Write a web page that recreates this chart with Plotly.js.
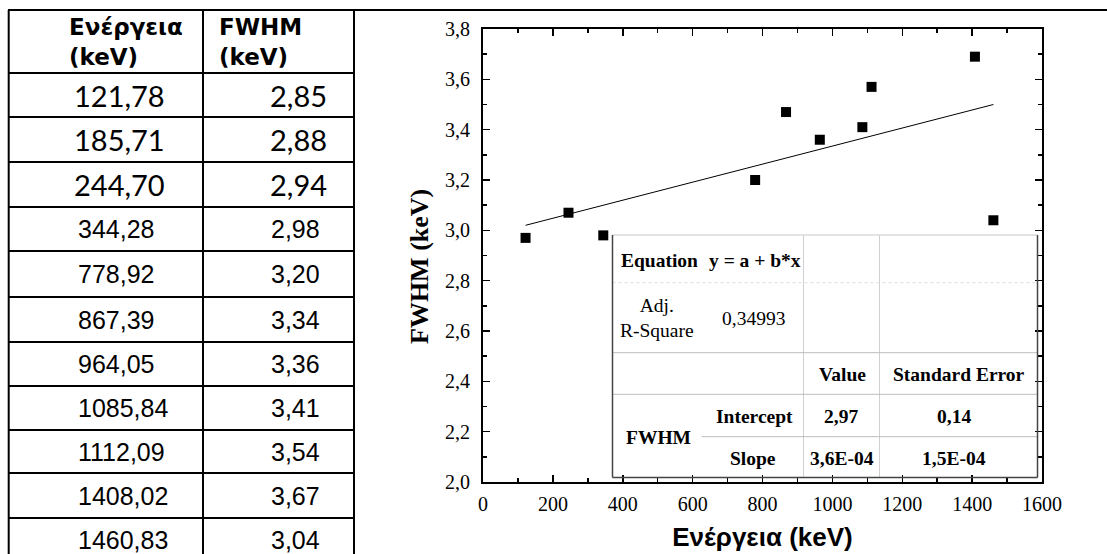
<!DOCTYPE html>
<html><head><meta charset="utf-8">
<script src="https://cdn.plot.ly/plotly-3.0.1.min.js"></script>
<style>html,body{margin:0;padding:0;background:#fff}</style>
</head><body><div id="chart" style="width:1107px;height:554px"></div>
<script>
// ---- data: left table ----
const tableHeaders = ['Ενέργεια<br>(keV)', 'FWHM<br>(keV)'];
const tableEnergy = ['121,78','185,71','244,70','344,28','778,92','867,39','964,05','1085,84','1112,09','1408,02','1460,83'];
const tableFwhm   = ['2,85','2,88','2,94','2,98','3,20','3,34','3,36','3,41','3,54','3,67','3,04'];

// ---- data: plotted points and fit ----
const plotEnergy = [121.78, 244.70, 344.28, 778.92, 867.39, 964.05, 1085.84, 1112.09, 1408.02, 1460.83];
const plotFwhm   = [2.97, 3.07, 2.98, 3.20, 3.47, 3.36, 3.41, 3.57, 3.69, 3.04];
const fitEnergy  = [121.78, 1460.83];
const fitFwhm    = [3.02, 3.50];

// ---- tick labels and titles ----
const xTickVals = [0,200,400,600,800,1000,1200,1400,1600];
const xTickText = ['0','200','400','600','800','1000','1200','1400','1600'];
const yTickVals = [2.0,2.2,2.4,2.6,2.8,3.0,3.2,3.4,3.6,3.8];
const yTickText = ['2,0','2,2','2,4','2,6','2,8','3,0','3,2','3,4','3,6','3,8'];
const xTitle = 'Ενέργεια (keV)';
const yTitle = 'FWHM (keV)';

// ---- inset fit table text ----
const insetText = ['Equation','y = a + b*x','Adj.<br>R-Square','0,34993','Value','Standard Error',
                   'Intercept','2,97','0,14','FWHM','Slope','3,6E-04','1,5E-04'];

// ---- layout helpers (pixel -> paper, margins are zero) ----
const W = 1107, H = 554;
const X = p => p / W;
const Y = p => 1 - p / H;

// left table geometry
const rowLines = [73,117,162,207,251,297,342,386,430,473,518,562];
const colEdges = [8.7, 203, 354];
const calibriRows = 3;

const shapes = [];
const annotations = [];
const line = (x0,y0,x1,y1,color,width,dash) => shapes.push({type:'line',xref:'paper',yref:'paper',
  x0:X(x0),y0:Y(y0),x1:X(x1),y1:Y(y1),line:{color:color,width:width,dash:dash||'solid'}});

// outer top line and table borders
line(8, 10, W, 10, '#000', 2);
colEdges.forEach(cx => line(cx, 10, cx, H, '#000', 2));
rowLines.slice(0,-1).forEach(ry => line(8, ry, 354, ry, '#000', 2));

// header text
const headerX = [67, 217];
tableHeaders.forEach((t,i) => annotations.push({xref:'paper',yref:'paper',x:X(headerX[i]),y:Y(42),
  xanchor:'left',yanchor:'middle',align:'left',showarrow:false,text:'<b>'+t+'</b>',
  font:{family:'DejaVu Sans',size:23,color:'#000'}}));

// body text
tableEnergy.forEach((t,i) => {
  const cy = (rowLines[i] + rowLines[i+1]) / 2;
  const cal = i < calibriRows;
  const f = cal ? {family:'Lato',size:29,color:'#000'} : {family:'Liberation Sans, Arial',size:25,color:'#000'};
  annotations.push({xref:'paper',yref:'paper',x:X(cal?72:76),y:Y(cy),xanchor:'left',yanchor:'middle',
    showarrow:false,text:t,font:f});
  annotations.push({xref:'paper',yref:'paper',x:X(cal?268:269),y:Y(cy),xanchor:'left',yanchor:'middle',
    showarrow:false,text:tableFwhm[i],font:f});
});

// inset table box + lines
const bx0 = 612.5, bx1 = 1037.5, by0 = 235, by1 = 477.5;
line(bx0, by0, bx1, by0, '#c8c8c8', 1);
line(803.5, by0, 803.5, by1, '#d0d0d0', 1);
line(879.5, by0, 879.5, by1, '#d0d0d0', 1);
line(bx0, 282.7, bx1, 282.7, '#dddddd', 1, 'dot');
line(bx0, 352.7, bx1, 352.7, '#bdbdbd', 1);
line(bx0, 394.3, bx1, 394.3, '#bdbdbd', 1);
line(701.7, 436.7, bx1, 436.7, '#bdbdbd', 1);
line(bx0, by0, bx0, by1, '#444', 1.5);
line(bx1, by0, bx1, by1, '#444', 1.5);
line(bx0, by1, bx1, by1, '#444', 1.5);

const insetPos = [
  [619,260.7,'left',true],[707,260.7,'left',true],[657,318,'center',false],[753,318,'center',false],
  [842,374,'center',true],[959,374,'center',true],
  [754,416,'center',true],[841,416,'center',true],[954,416,'center',true],
  [658,437,'center',true],[753,458,'center',true],[842,458,'center',true],[954,458,'center',true]
];
insetText.forEach((t,i) => {
  const p = insetPos[i];
  annotations.push({xref:'paper',yref:'paper',x:X(p[0]),y:Y(p[1]),xanchor:p[2],yanchor:'middle',
    showarrow:false,text:p[3]?'<b>'+t+'</b>':t,
    font:{family:'Liberation Serif, Times New Roman',size:19.5,color:'#000'}});
});

// y axis title (placed as rotated annotation to match offset position)
annotations.push({xref:'paper',yref:'paper',x:X(419),y:Y(267),xanchor:'center',yanchor:'middle',
  textangle:-90,showarrow:false,text:'<b>'+yTitle+'</b>',
  font:{family:'Liberation Serif, Times New Roman',size:26,color:'#000'}});

const axisCommon = {
  showline:true, linecolor:'#000', linewidth:2, mirror:'ticks',
  ticks:'inside', ticklen:7, tickwidth:1.5, tickcolor:'#000',
  showgrid:false, zeroline:false, fixedrange:true,
  tickfont:{family:'Liberation Serif, Times New Roman', size:20, color:'#000'}
};

const traces = [
  {x:fitEnergy, y:fitFwhm, type:'scatter', mode:'lines', line:{color:'#000', width:1}, hoverinfo:'skip'},
  {x:plotEnergy, y:plotFwhm, type:'scatter', mode:'markers',
   marker:{symbol:'square', size:10, color:'#000'}}
];

const layout = {
  width:W, height:H, margin:{l:0,r:0,t:0,b:0},
  paper_bgcolor:'#fff', plot_bgcolor:'rgba(0,0,0,0)', showlegend:false,
  xaxis: Object.assign({}, axisCommon, {
    domain:[X(483), X(1042)], range:[0,1600], tickmode:'array', tickvals:xTickVals, ticktext:xTickText,
    ticklabelstandoff:3,
    minor:{ticks:'inside', ticklen:4, tickwidth:1.5, tickcolor:'#000', dtick:100, tick0:0, showgrid:false},
    title:{text:'<b>'+xTitle+'</b>', font:{family:'Liberation Sans, Arial', size:26, color:'#000'}, standoff:14}
  }),
  yaxis: Object.assign({}, axisCommon, {
    domain:[Y(482), Y(29)], range:[2.0,3.8], tickmode:'array', tickvals:yTickVals, ticktext:yTickText,
    ticklabelstandoff:7,
    minor:{ticks:'inside', ticklen:4, tickwidth:1.5, tickcolor:'#000', dtick:0.1, tick0:2.0, showgrid:false}
  }),
  shapes:shapes, annotations:annotations
};

Plotly.newPlot('chart', traces, layout, {displayModeBar:false, staticPlot:true});
</script></body></html>
